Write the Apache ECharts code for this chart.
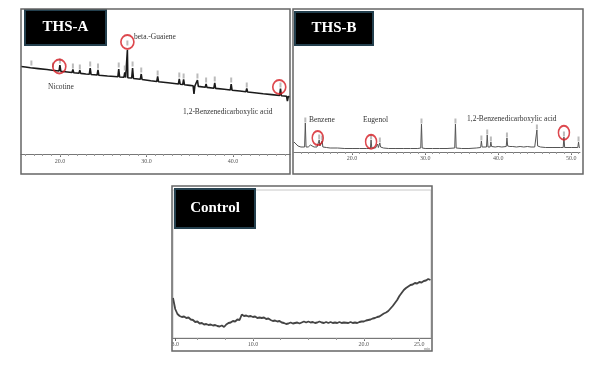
<!DOCTYPE html>
<html><head><meta charset="utf-8">
<script src="https://cdn.jsdelivr.net/npm/echarts@6/dist/echarts.min.js"></script>
<style>html,body{margin:0;padding:0;background:#fff}#c{width:608px;height:370px}</style>
</head><body><div id="c"></div>
<script>
// ---------- THS-A ----------
const thsA_time = [15.5,16.0,16.6,16.7,16.8,17.5,18.5,19.1,19.2,19.3,19.9,20.0,20.1,20.6,21.4,21.5,21.6,22.2,22.3,22.4,23.0,23.4,23.5,23.6,24.3,24.4,24.5,25.5,26.7,26.8,26.9,27.4,27.5,27.6,27.75,27.8,27.85,28.3,28.4,28.5,29.3,29.4,29.5,30.5,31.2,31.3,31.4,32.5,33.7,33.8,33.9,34.2,34.3,34.4,35.0,35.4,35.5,35.6,35.8,35.9,36.0,36.8,36.9,37.0,37.8,37.9,38.0,39.0,39.7,39.8,39.9,40.8,41.5,41.6,41.7,42.5,43.5,44.5,45.4,45.5,45.6,46.2,46.3,46.4,46.6];
const thsA_signal = [87.5,87.0,86.2,88.0,86.0,85.4,84.5,83.8,85.6,83.6,83.0,89.0,82.8,82.3,81.5,84.5,81.3,80.8,83.8,80.6,80.0,79.8,86.0,79.5,79.0,84.0,78.7,78.0,77.2,85.0,77.0,76.8,81.5,76.5,76.4,104,76.2,76.0,86.0,75.5,74.8,80.0,74.5,73.3,72.5,77.5,72.3,71.2,70.0,75.0,69.8,69.5,74.5,69.2,68.6,68.2,60.0,68.0,67.8,74.0,67.6,66.8,70.0,66.6,65.8,71.0,65.6,64.7,64.0,70.0,63.8,63.0,62.2,65.5,62.0,61.3,60.3,59.4,58.5,65.5,58.3,57.8,53.0,57.5,57.3];
const thsA_ticks = [20,30,40];
const thsA_minor = [16,17,18,19,20,21,22,23,24,25,26,27,28,29,30,31,32,33,34,35,36,37,38,39,40,41,42,43,44,45,46];
const thsA_circles = [[19.93,87.5],[27.8,112],[45.36,67]];
const thsA_tags = [[16.7,91],[19.2,89],[20.0,93],[21.5,88],[22.3,87],[23.5,90],[24.4,88],[26.8,89],[27.5,86],[27.8,111],[28.4,90],[29.4,84],[31.3,81],[33.8,79],[34.3,78],[35.9,78],[36.9,74],[37.9,75],[39.8,74],[41.6,69],[45.5,69]];

// ---------- THS-B ----------
const thsB_time = [12.05,12.3,12.6,13.0,13.5,13.6,13.7,14.0,14.3,14.5,14.8,15.0,15.2,15.5,15.6,15.8,15.9,16.0,16.5,17.0,18.0,19.0,20.0,21.0,22.0,22.5,22.6,22.7,23.2,23.5,23.6,23.8,23.9,24.3,25.0,26.0,27.0,28.0,29.0,29.4,29.5,29.6,30.0,31.0,32.0,33.0,34.05,34.15,34.25,35.0,36.0,37.0,37.6,37.7,37.8,38.4,38.5,38.6,38.9,39.0,39.1,39.6,40.0,40.5,41.1,41.2,41.3,41.5,41.6,42.0,42.5,43.0,43.5,44.0,44.5,45.0,45.2,45.3,45.4,45.8,46.5,47.5,48.5,48.9,49.0,49.1,50.0,50.9,51.0,51.1,51.2];
const thsB_signal = [10,8,6,5,5,29,5,5,7,5,5,6.5,5,12,6,6,11,5,4.5,4,4,3.5,3.5,3.5,3.5,3.5,12,4,4,8,4.5,9,5,4,3.5,3.5,3.5,3.5,3.5,4,28,4,3.5,3.5,3.5,3.5,4,28,4,3.5,3.5,4,4.5,11,5,5,17,5,5,10,5.5,5,5.5,5,5.5,14,6,8,5.5,5.5,5,5.5,5,5.5,5,5,6,22,6,5,4.5,4.5,4.5,4.5,15,4.5,4.5,4.5,10,4.5,4.5];
const thsB_ticks = [20,30,40,50];
const thsB_minor = [13,14,15,16,17,18,19,20,21,22,23,24,25,26,27,28,29,30,31,32,33,34,35,36,37,38,39,40,41,42,43,44,45,46,47,48,49,50,51];
const thsB_circles = [[15.3,14],[22.6,10.3],[49.0,19.3]];
const thsB_tags = [[13.6,32],[15.5,15],[15.9,14],[22.6,15],[23.8,12],[29.5,31],[34.15,31],[37.7,14],[38.5,20],[39.0,13],[41.2,17],[45.3,25],[49.0,18],[51.0,13]];

// ---------- Control ----------
const ctrl_time = [2.8,3.0,3.2,3.4,3.6,3.8,4.0,4.2,4.4,4.6,4.8,5.0,5.2,5.4,5.6,5.8,6.0,6.2,6.4,6.6,6.8,7.0,7.2,7.4,7.6,7.8,8.0,8.2,8.4,8.6,8.8,9.0,9.2,9.4,9.6,9.8,10.0,10.2,10.4,10.6,10.8,11.0,11.2,11.4,11.6,11.8,12.0,12.2,12.4,12.6,12.8,13.0,13.2,13.4,13.6,13.8,14.0,14.2,14.4,14.6,14.8,15.0,15.2,15.4,15.6,15.8,16.0,16.2,16.4,16.6,16.8,17.0,17.2,17.4,17.6,17.8,18.0,18.2,18.6,18.8,19.0,19.2,19.4,19.6,19.8,20.0,20.2,20.4,20.6,20.8,21.0,21.2,21.4,21.6,21.8,22.0,22.2,22.4,22.6,22.8,23.0,23.2,23.4,23.6,23.8,24.0,24.2,24.4,24.6,24.8,25.0,25.2,25.4,25.6,25.8,26.0];
const ctrl_signal = [40,29,24,22,21,21.5,20,20.5,18.5,18,16,16.5,14.5,15,13.5,14,13,13.5,12.5,13,12,11.5,12.5,11,13.5,15,15.5,17,16.5,18.5,18,23.5,22,22.5,21.5,22,21,21.5,20,20.5,20,20.5,19,19.5,18,17,17.5,16.5,17,15.5,15,14,14.5,15.5,14.5,15,15.5,14.5,15.5,16.5,15.5,16.5,15.5,16,15,15.5,16.5,15.5,15,16,15,16,15,15.5,15,16,15,15.5,15,16,15,15.5,15,16,16.5,16.5,17.5,18,18.5,19.5,20,21,21.5,23,24.5,25.5,27,29.5,32,35,38,42,45,48,50,51.5,53,53.5,55,54.5,56,55.5,57,57.5,59,58];
const ctrl_ticks = [3,10,20,25];
const ctrl_minor = [2.5,5,7.5,10,12.5,15,17.5,20,22.5,25];

const titles = ['THS-A','THS-B','Control'];
const notesA = ['beta.-Guaiene','Nicotine','1,2-Benzenedicarboxylic acid'];
const notesB = ['Benzene','Eugenol','1,2-Benzenedicarboxylic acid'];

const zip = (a,b) => a.map((v,i)=>[v,b[i]]);
const SERIF = 'Liberation Serif';

function xAxes(gi, min, max, ticks, minor, margin){
  return [
    {type:'value', gridIndex:gi, min, max, position:'bottom',
     axisLine:{lineStyle:{color:'#777',width:1}}, splitLine:{show:false},
     axisTick:{customValues:ticks, length:3, lineStyle:{color:'#666'}},
     axisLabel:{customValues:ticks, formatter:v=>v.toFixed(1), fontSize:6, fontFamily:SERIF, color:'#555', margin}},
    {type:'value', gridIndex:gi, min, max, position:'bottom', offset:0,
     axisLine:{show:false}, splitLine:{show:false},
     axisTick:{customValues:minor, length:2, lineStyle:{color:'#999'}},
     axisLabel:{show:false}}
  ];
}
function yAx(gi, max){
  return {type:'value', gridIndex:gi, min:0, max, show:false};
}
function circles(xi, yi, data, size){
  return {type:'scatter', xAxisIndex:xi, yAxisIndex:yi, data, symbol:'circle', symbolSize:size,
    itemStyle:{color:'rgba(0,0,0,0)', borderColor:'#d41a22', borderWidth:1.7}, silent:true, z:5};
}
function tags(xi, yi, data){
  return {type:'scatter', xAxisIndex:xi, yAxisIndex:yi, data, symbol:'rect', symbolSize:[2,5],
    itemStyle:{color:'#aaa'}, silent:true, z:4};
}
function labelBox(x,y,w,h,text){
  return {type:'group', x, y, children:[
    {type:'rect', shape:{x:0,y:0,width:w,height:h}, style:{fill:'#000', stroke:'#24404e', lineWidth:2}},
    {type:'text', x:w/2, y:h/2, style:{text, fill:'#fff', font:'bold 15px "Liberation Serif"', align:'center', verticalAlign:'middle'}}
  ]};
}
function note(x,y,text){
  return {type:'text', x, y, style:{text, fill:'#333', font:'7.5px "Liberation Serif"', verticalAlign:'middle'}};
}
function frame(x,y,w,h){
  return {type:'rect', shape:{x,y,width:w,height:h}, style:{fill:'none', stroke:'#666', lineWidth:1.5}, z:10};
}

const chart = echarts.init(document.getElementById('c'), null, {renderer:'canvas'});
chart.setOption({
  animation:false,
  backgroundColor:'#fff',
  grid:[
    {left:21, top:34, width:269, height:120},
    {left:294, top:32, width:286, height:120},
    {left:173, top:190, width:258, height:148, show:true, borderColor:'#c8c8c8', borderWidth:1}
  ],
  xAxis:[
    ...xAxes(0,15.5,46.6,thsA_ticks,thsA_minor,4),
    ...xAxes(1,12.05,51.2,thsB_ticks,thsB_minor,3),
    ...xAxes(2,2.8,26.05,ctrl_ticks,ctrl_minor,3)
  ],
  yAxis:[yAx(0,120), yAx(1,120), yAx(2,148)],
  series:[
    {type:'line', xAxisIndex:0, yAxisIndex:0, data:zip(thsA_time,thsA_signal), showSymbol:false,
     lineStyle:{color:'#1a1a1a', width:1.6}},
    {type:'line', xAxisIndex:2, yAxisIndex:1, data:zip(thsB_time,thsB_signal), showSymbol:false,
     lineStyle:{color:'#555', width:1}},
    {type:'line', xAxisIndex:4, yAxisIndex:2, data:zip(ctrl_time,ctrl_signal), showSymbol:false,
     lineStyle:{color:'#444', width:1.8}},
    tags(0,0,thsA_tags),
    tags(2,1,thsB_tags),
    circles(0,0,thsA_circles,[13,14]),
    circles(2,1,thsB_circles,[11,14])
  ],
  graphic:[
    frame(21,9,269,165),
    frame(293,9,290,165),
    frame(172,186,260,165),
    labelBox(25,10,81,35,titles[0]),
    labelBox(295,12,78,33,titles[1]),
    labelBox(175,189,80,39,titles[2]),
    note(134,37,notesA[0]),
    note(48,87,notesA[1]),
    note(183,112,notesA[2]),
    note(309,120,notesB[0]),
    note(363,120,notesB[1]),
    note(467,119,notesB[2]),
    {type:'text', x:424, y:349, style:{text:'min', fill:'#777', font:'4px "Liberation Serif"', verticalAlign:'middle'}}
  ]
});
</script></body></html>
